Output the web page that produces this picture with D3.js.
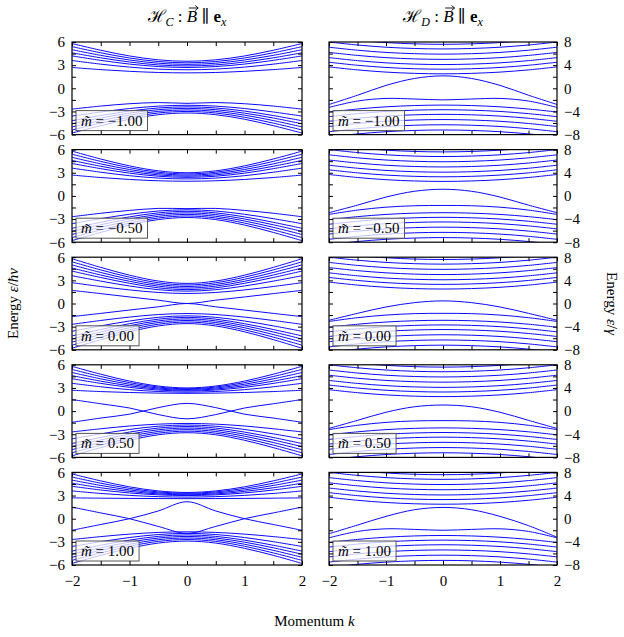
<!DOCTYPE html>
<html>
<head>
<meta charset="utf-8">
<script src="https://cdn.jsdelivr.net/npm/d3@7"></script>
<style>
  body { margin: 0; background: #fff; }
  text { font-family: "Liberation Serif", "DejaVu Serif", serif; }
</style>
</head>
<body>
<div id="chart"></div>
<script>
// momentum samples shared by every curve
const momentum = [-2, -1.5, -1, -0.5, 0, 0.5, 1, 1.5, 2];
const massLabels = ["\u22121.00", "\u22120.50", "0.00", "0.50", "1.00"];
const xTicks = [-2, -1.5, -1, -0.5, 0, 0.5, 1, 1.5, 2];
const xLabels = [-2, -1, 0, 1, 2];
const cTicks = [-6, -4.5, -3, -1.5, 0, 1.5, 3, 4.5, 6];
const cLabels = [-6, -3, 0, 3, 6];
const dTicks = [-8, -6, -4, -2, 0, 2, 4, 6, 8];
const dLabels = [-8, -4, 0, 4, 8];

// H_C bands (one array per mass)
const cBandsM100 = [
  [5.8, 4.93, 4.19, 3.69, 3.5, 3.69, 4.19, 4.93, 5.8],
  [5.4, 4.60, 3.93, 3.47, 3.3, 3.47, 3.93, 4.60, 5.4],
  [5.0, 4.27, 3.67, 3.25, 3.1, 3.25, 3.67, 4.27, 5.0],
  [4.6, 3.95, 3.41, 3.03, 2.9, 3.03, 3.41, 3.95, 4.6],
  [4.2, 3.62, 3.14, 2.82, 2.7, 2.82, 3.14, 3.62, 4.2],
  [3.6, 3.13, 2.75, 2.49, 2.4, 2.49, 2.75, 3.13, 3.6],
  [2.7, 2.42, 2.20, 2.05, 2.0, 2.05, 2.20, 2.42, 2.7],
  [-2.7, -2.3, -2.0, -1.85, -1.95, -1.85, -2.0, -2.3, -2.7],
  [-3.6, -3.07, -2.62, -2.31, -2.2, -2.31, -2.62, -3.07, -3.6],
  [-4.2, -3.53, -2.95, -2.55, -2.4, -2.55, -2.95, -3.53, -4.2],
  [-4.6, -3.85, -3.22, -2.77, -2.6, -2.77, -3.22, -3.85, -4.6],
  [-5.0, -4.18, -3.48, -2.99, -2.8, -2.99, -3.48, -4.18, -5.0],
  [-5.4, -4.51, -3.75, -3.2, -3.0, -3.2, -3.75, -4.51, -5.4],
  [-5.8, -4.84, -4.01, -3.42, -3.2, -3.42, -4.01, -4.84, -5.8]
];
const cBandsM050 = [
  [5.8, 4.78, 3.89, 3.25, 3.0, 3.25, 3.89, 4.78, 5.8],
  [5.4, 4.47, 3.66, 3.07, 2.85, 3.07, 3.66, 4.47, 5.4],
  [5.0, 4.15, 3.42, 2.90, 2.7, 2.90, 3.42, 4.15, 5.0],
  [4.6, 3.84, 3.19, 2.72, 2.55, 2.72, 3.19, 3.84, 4.6],
  [4.2, 3.53, 2.95, 2.55, 2.4, 2.55, 2.95, 3.53, 4.2],
  [3.6, 3.07, 2.62, 2.31, 2.2, 2.31, 2.62, 3.07, 3.6],
  [2.7, 2.38, 2.13, 1.96, 1.9, 1.96, 2.13, 2.38, 2.7],
  [-2.7, -2.25, -1.88, -1.62, -1.65, -1.62, -1.88, -2.25, -2.7],
  [-3.6, -2.95, -2.38, -1.96, -1.8, -1.96, -2.38, -2.95, -3.6],
  [-4.2, -3.42, -2.72, -2.2, -2.0, -2.2, -2.72, -3.42, -4.2],
  [-4.6, -3.74, -2.99, -2.42, -2.2, -2.42, -2.99, -3.74, -4.6],
  [-5.0, -4.07, -3.25, -2.64, -2.4, -2.64, -3.25, -4.07, -5.0],
  [-5.4, -4.4, -3.52, -2.86, -2.6, -2.86, -3.52, -4.4, -5.4],
  [-5.8, -4.73, -3.78, -3.07, -2.8, -3.07, -3.78, -4.73, -5.8]
];
const cBandsP000 = [
  [5.8, 4.68, 3.67, 2.91, 2.6, 2.91, 3.67, 4.68, 5.8],
  [5.4, 4.35, 3.41, 2.69, 2.4, 2.69, 3.41, 4.35, 5.4],
  [5.0, 4.02, 3.14, 2.47, 2.2, 2.47, 3.14, 4.02, 5.0],
  [4.6, 3.69, 2.88, 2.25, 2.0, 2.25, 2.88, 3.69, 4.6],
  [4.2, 3.37, 2.62, 2.03, 1.8, 2.03, 2.62, 3.37, 4.2],
  [3.6, 2.90, 2.27, 1.79, 1.6, 1.79, 2.27, 2.90, 3.6],
  [2.7, 2.20, 1.76, 1.43, 1.3, 1.43, 1.76, 2.20, 2.7],
  [1.7, 1.28, 0.85, 0.43, 0, 0.43, 0.85, 1.28, 1.7],
  [-1.7, -1.28, -0.85, -0.43, 0, -0.43, -0.85, -1.28, -1.7],
  [-2.7, -2.20, -1.76, -1.43, -1.3, -1.43, -1.76, -2.20, -2.7],
  [-3.6, -2.90, -2.27, -1.79, -1.6, -1.79, -2.27, -2.90, -3.6],
  [-4.2, -3.37, -2.62, -2.03, -1.8, -2.03, -2.62, -3.37, -4.2],
  [-4.6, -3.69, -2.88, -2.25, -2.0, -2.25, -2.88, -3.69, -4.6],
  [-5.0, -4.02, -3.14, -2.47, -2.2, -2.47, -3.14, -4.02, -5.0],
  [-5.4, -4.35, -3.41, -2.69, -2.4, -2.69, -3.41, -4.35, -5.4],
  [-5.8, -4.68, -3.67, -2.91, -2.6, -2.91, -3.67, -4.68, -5.8]
];
const cBandsP050 = [
  [5.8, 4.78, 3.89, 3.25, 3.0, 3.25, 3.89, 4.78, 5.8],
  [5.4, 4.48, 3.69, 3.12, 2.9, 3.12, 3.69, 4.48, 5.4],
  [5.0, 4.18, 3.48, 2.99, 2.8, 2.99, 3.48, 4.18, 5.0],
  [4.6, 3.88, 3.28, 2.86, 2.7, 2.86, 3.28, 3.88, 4.6],
  [4.2, 3.59, 3.08, 2.73, 2.6, 2.73, 3.08, 3.59, 4.2],
  [3.6, 3.15, 2.78, 2.54, 2.45, 2.54, 2.78, 3.15, 3.6],
  [2.7, 2.53, 2.41, 2.33, 2.3, 2.33, 2.41, 2.53, 2.7],
  [1.5, 0.95, 0.4, -0.45, -1.0, -0.45, 0.4, 0.95, 1.5],
  [-1.45, -0.9, -0.4, 0.45, 1.0, 0.45, -0.4, -0.9, -1.45],
  [-2.7, -2.29, -1.93, -1.69, -1.6, -1.69, -1.93, -2.29, -2.7],
  [-3.6, -2.95, -2.38, -1.96, -1.8, -1.96, -2.38, -2.95, -3.6],
  [-4.2, -3.42, -2.72, -2.2, -2.0, -2.2, -2.72, -3.42, -4.2],
  [-4.6, -3.74, -2.99, -2.42, -2.2, -2.42, -2.99, -3.74, -4.6],
  [-5.0, -4.07, -3.25, -2.64, -2.4, -2.64, -3.25, -4.07, -5.0],
  [-5.4, -4.4, -3.52, -2.86, -2.6, -2.86, -3.52, -4.4, -5.4],
  [-5.8, -4.73, -3.78, -3.07, -2.8, -3.07, -3.78, -4.73, -5.8]
];
const cBandsP100 = [
  [5.8, 4.9, 4.13, 3.6, 3.4, 3.6, 4.13, 4.9, 5.8],
  [5.4, 4.6, 3.93, 3.47, 3.3, 3.47, 3.93, 4.6, 5.4],
  [5.0, 4.31, 3.73, 3.34, 3.2, 3.34, 3.73, 4.31, 5.0],
  [4.6, 4.01, 3.54, 3.21, 3.1, 3.21, 3.54, 4.01, 4.6],
  [4.2, 3.72, 3.34, 3.09, 3.0, 3.09, 3.34, 3.72, 4.2],
  [3.6, 3.27, 3.02, 2.86, 2.8, 2.86, 3.02, 3.27, 3.6],
  [2.7, 2.66, 2.63, 2.61, 2.6, 2.61, 2.63, 2.66, 2.7],
  [1.5, 0.75, 0, -1.0, -1.9, -1.0, 0, 0.75, 1.5],
  [-1.5, -0.75, 0, 1.0, 2.2, 1.0, 0, -0.75, -1.5],
  [-2.7, -2.32, -2.0, -1.78, -1.7, -1.78, -2.0, -2.32, -2.7],
  [-3.6, -2.98, -2.44, -2.05, -1.9, -2.05, -2.44, -2.98, -3.6],
  [-4.2, -3.44, -2.78, -2.29, -2.1, -2.29, -2.78, -3.44, -4.2],
  [-4.6, -3.77, -3.04, -2.51, -2.3, -2.51, -3.04, -3.77, -4.6],
  [-5.0, -4.1, -3.31, -2.72, -2.5, -2.72, -3.31, -4.1, -5.0],
  [-5.4, -4.43, -3.57, -2.94, -2.7, -2.94, -3.57, -4.43, -5.4],
  [-5.8, -4.75, -3.84, -3.16, -2.9, -3.16, -3.84, -4.75, -5.8]
];

// H_D bands: the flat ladders are almost the same for every mass
const dUpper = [
  [8.8, 8.28, 7.9, 7.68, 7.6, 7.68, 7.9, 8.28, 8.8],
  [8.0, 7.48, 7.1, 6.88, 6.8, 6.88, 7.1, 7.48, 8.0],
  [7.1, 6.58, 6.2, 5.98, 5.9, 5.98, 6.2, 6.58, 7.1],
  [6.2, 5.68, 5.3, 5.08, 5.0, 5.08, 5.3, 5.68, 6.2],
  [5.3, 4.78, 4.4, 4.18, 4.1, 4.18, 4.4, 4.78, 5.3],
  [4.5, 3.98, 3.6, 3.38, 3.3, 3.38, 3.6, 3.98, 4.5],
  [3.7, 3.18, 2.8, 2.58, 2.5, 2.58, 2.8, 3.18, 3.7]
];
const dLower = [
  [-4.1, -3.58, -3.2, -2.98, -2.9, -2.98, -3.2, -3.58, -4.1],
  [-4.9, -4.38, -4.0, -3.78, -3.7, -3.78, -4.0, -4.38, -4.9],
  [-5.7, -5.18, -4.8, -4.58, -4.5, -4.58, -4.8, -5.18, -5.7],
  [-6.6, -6.08, -5.7, -5.48, -5.4, -5.48, -5.7, -6.08, -6.6],
  [-7.5, -6.98, -6.6, -6.38, -6.3, -6.38, -6.6, -6.98, -7.5],
  [-8.4, -7.88, -7.5, -7.28, -7.2, -7.28, -7.5, -7.88, -8.4]
];
const dEdgeM100 = [-3.3, -2.2, -1.75, -1.85, -2.0, -1.85, -1.75, -2.2, -3.3];
const dEdgeM050 = [-3.2, -2.45, -1.95, -1.7, -1.65, -1.7, -1.95, -2.45, -3.2];
const dEdgeP000 = [-3.1, -2.45, -2.0, -1.75, -1.7, -1.75, -2.0, -2.45, -3.1];
const dEdgeP050 = [-3.2, -2.45, -1.95, -1.7, -1.65, -1.7, -1.95, -2.45, -3.2];
const dEdgeP100 = [-3.3, -2.2, -1.75, -1.85, -2.0, -1.85, -1.75, -2.2, -3.3];
const dArchM100 = [-2.8, -1.2, 0.5, 1.7, 2.15, 1.7, 0.5, -1.2, -2.8];
const dArchM050 = [-2.9, -1.6, -0.2, 0.8, 1.15, 0.8, -0.2, -1.6, -2.9];
const dArchP000 = [-2.9, -1.7, -0.6, 0.15, 0.45, 0.15, -0.6, -1.7, -2.9];
const dArchP050 = [-3.0, -1.6, -0.2, 0.75, 1.05, 0.75, -0.2, -1.6, -3.0];
const dArchP100 = [-2.6, -1.1, 0.4, 1.55, 1.95, 1.55, 0.4, -1.2, -3.2];

const cRows = [cBandsM100, cBandsM050, cBandsP000, cBandsP050, cBandsP100];
const dRows = [
  dUpper.concat([dArchM100, dEdgeM100], dLower),
  dUpper.concat([dArchM050, dEdgeM050], dLower),
  dUpper.concat([dArchP000, dEdgeP000], dLower),
  dUpper.concat([dArchP050, dEdgeP050], dLower),
  dUpper.concat([dArchP100, dEdgeP100], dLower)
];

const width = 624, height = 637;
const top0 = 42, pitch = 107.6, ph = 92.6;
const cols = [
  {x0: 72, x1: 302, dom: [-6, 6], ticks: cTicks, labels: cLabels, rows: cRows, side: "left"},
  {x0: 329, x1: 557, dom: [-8, 8], ticks: dTicks, labels: dLabels, rows: dRows, side: "right"}
];

const svg = d3.select("#chart").append("svg")
  .attr("width", width)
  .attr("height", height);
const defs = svg.append("defs");
const fmt = d => d3.format("d")(d);

cols.forEach((col, ci) => {
  const x = d3.scaleLinear().domain([-2, 2]).range([col.x0, col.x1]);
  col.rows.forEach((bands, ri) => {
    const yTop = top0 + ri * pitch, yBot = yTop + ph;
    const y = d3.scaleLinear().domain(col.dom).range([yBot, yTop]);
    const id = "clip" + ci + ri;
    defs.append("clipPath").attr("id", id).append("rect")
      .attr("x", col.x0).attr("y", yTop).attr("width", col.x1 - col.x0).attr("height", ph);

    const line = d3.line()
      .x((d, i) => x(momentum[i]))
      .y(d => y(d))
      .curve(d3.curveCatmullRom.alpha(0.5));

    const g = svg.append("g");
    g.append("g").attr("clip-path", "url(#" + id + ")")
      .selectAll("path").data(bands).enter().append("path")
      .attr("d", line)
      .attr("fill", "none")
      .attr("stroke", "#0a0aff")
      .attr("stroke-width", 1);

    // legend box
    const lg = g.append("g");
    const lt = lg.append("text")
      .attr("x", col.x0 + 9).attr("y", yBot - 9)
      .attr("font-size", 15);
    lt.append("tspan").attr("font-style", "italic").text("m\u0303");
    lt.append("tspan").text(" = " + massLabels[ri]);
    const bb = lt.node().getBBox();
    lg.insert("rect", "text")
      .attr("x", col.x0 + 4).attr("y", yBot - 24)
      .attr("width", bb.width + 10).attr("height", 20)
      .attr("fill", "#fff").attr("fill-opacity", 0.75)
      .attr("stroke", "#555").attr("stroke-width", 1);

    // ticks on all four sides, pointing inward
    const axB = g.append("g").attr("transform", "translate(0," + yBot + ")")
      .call(d3.axisBottom(x).tickValues(xTicks).tickSize(-4).tickPadding(10)
        .tickFormat(d => (ri === 4 && xLabels.includes(d)) ? fmt(d) : ""));
    const axT = g.append("g").attr("transform", "translate(0," + yTop + ")")
      .call(d3.axisTop(x).tickValues(xTicks).tickSize(-4).tickFormat(""));
    const yFmt = d => col.labels.includes(d) ? fmt(d) : "";
    const axL = g.append("g").attr("transform", "translate(" + col.x0 + ",0)")
      .call(d3.axisLeft(y).tickValues(col.ticks).tickSize(-4).tickPadding(7)
        .tickFormat(col.side === "left" ? yFmt : ""));
    const axR = g.append("g").attr("transform", "translate(" + col.x1 + ",0)")
      .call(d3.axisRight(y).tickValues(col.ticks).tickSize(-4).tickPadding(7)
        .tickFormat(col.side === "right" ? yFmt : ""));
    [axB, axT, axL, axR].forEach(a => {
      a.select(".domain").remove();
      a.attr("font-family", null).attr("font-size", 15);
      a.selectAll("line").attr("stroke", "#000");
      a.selectAll("text").attr("fill", "#000");
    });

    g.append("rect")
      .attr("x", col.x0).attr("y", yTop)
      .attr("width", col.x1 - col.x0).attr("height", ph)
      .attr("fill", "none").attr("stroke", "#000").attr("stroke-width", 1.2);
  });

  // column title, the vector arrow is drawn by hand above the B
  const t = svg.append("text")
    .attr("x", (col.x0 + col.x1) / 2).attr("y", 22)
    .attr("text-anchor", "middle").attr("font-size", 17);
  t.append("tspan").text("\u210B");
  t.append("tspan").attr("font-style", "italic").attr("font-size", 12).attr("dy", 4).text(ci === 0 ? "C" : "D");
  t.append("tspan").attr("dy", -4).text(" : ");
  t.append("tspan").attr("font-style", "italic").text("B");
  t.append("tspan").text(" \u2225 ");
  t.append("tspan").attr("font-weight", "bold").text("e");
  t.append("tspan").attr("font-style", "italic").attr("font-size", 12).attr("dy", 4).text("x");
  const bx = t.node().getExtentOfChar(5);
  const ax0 = bx.x + 2, ax1 = bx.x + bx.width + 1, ay = bx.y + 1;
  svg.append("path")
    .attr("d", "M" + ax0 + "," + ay + "H" + ax1 + "M" + (ax1 - 3) + "," + (ay - 2.5) + "L" + ax1 + "," + ay + "L" + (ax1 - 3) + "," + (ay + 2.5))
    .attr("fill", "none").attr("stroke", "#000").attr("stroke-width", 0.9);
});

const midY = top0 + (4 * pitch + ph) / 2;
const yl = svg.append("text")
  .attr("transform", "translate(18," + midY + ") rotate(-90)")
  .attr("text-anchor", "middle").attr("font-size", 15);
yl.append("tspan").text("Energy ");
yl.append("tspan").attr("font-style", "italic").text("\u03B5");
yl.append("tspan").text("/");
yl.append("tspan").attr("font-style", "italic").text("\u0127v");

const yr = svg.append("text")
  .attr("transform", "translate(607," + midY + ") rotate(90)")
  .attr("text-anchor", "middle").attr("font-size", 15);
yr.append("tspan").text("Energy ");
yr.append("tspan").attr("font-style", "italic").text("\u03B5");
yr.append("tspan").text("/");
yr.append("tspan").attr("font-style", "italic").text("\u03B3");

const xl = svg.append("text")
  .attr("x", (72 + 557) / 2).attr("y", 626)
  .attr("text-anchor", "middle").attr("font-size", 15);
xl.append("tspan").text("Momentum ");
xl.append("tspan").attr("font-style", "italic").text("k");
</script>
</body>
</html>
